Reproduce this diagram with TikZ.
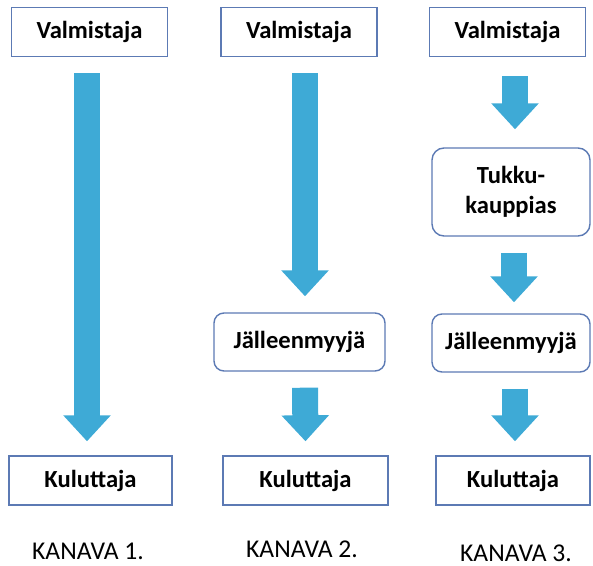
\documentclass[tikz,border=0pt]{standalone}
\usepackage{fontspec}
\setmainfont{Carlito}
\usetikzlibrary{arrows.meta}
\definecolor{arrowblue}{RGB}{62,170,214}
\definecolor{boxblue}{RGB}{92,122,180}
\begin{document}
\begin{tikzpicture}[x=0.5pt, y=-0.5pt,
            box/.style={rectangle, draw=boxblue, line width=0.7pt, align=center,
            font=\fontsize{12.3}{15}\selectfont\bfseries, inner sep=0pt},
            box1/.style={box, minimum width=78pt, minimum height=24.5pt},
            box2/.style={box, rounded corners=5pt, minimum width=80pt, minimum height=29pt},
            box3/.style={box, rounded corners=6pt, minimum width=79pt, minimum height=44pt},
            label/.style={font=\fontsize{12.8}{15}\selectfont, inner sep=0pt},
            flow/.style={arrowblue, line width=13pt, -{Triangle[width=23pt, length=13pt]}}
        ]
            \useasboundingbox (0,0) rectangle (593,566);

            % KANAVA 1.
            \node (valm1) [box1] at (89.5, 32) {Valmistaja};
            \node (kulu1) [box1, minimum width=81.5pt] at (90.5, 480.5) {Kuluttaja};
            \node (kan1) [label] at (88, 551) {KANAVA 1.};

            % KANAVA 2.
            \node (valm2) [box1] at (299, 32) {Valmistaja};
            \node (jall2) [box2, minimum width=85.5pt] at (299.5, 342) {Jälleenmyyjä};
            \node (kulu2) [box1, minimum width=82.5pt] at (305.5, 480.5) {Kuluttaja};
            \node (kan2) [label] at (302, 549) {KANAVA 2.};

            % KANAVA 3.
            \node (valm3) [box1] at (507.5, 32) {Valmistaja};
            \node (tukku3) [box3] at (511, 192) {Tukku-\\kauppias};
            \node (jall3) [box2, minimum width=79pt] at (511, 343) {Jälleenmyyjä};
            \node (kulu3) [box1, minimum width=77pt] at (513, 480.5) {Kuluttaja};
            \node (kan3) [label] at (516, 553) {KANAVA 3.};

            \draw [flow] ([xshift=-1.25pt, yshift=-8pt]valm1.south) -- ([xshift=-1.75pt, yshift=7pt]kulu1.north);
            \draw [flow] ([xshift=3pt, yshift=-8pt]valm2.south) -- ([xshift=2.75pt, yshift=8pt]jall2.north);
            \draw [flow] ([xshift=2.75pt, yshift=-8pt]jall2.south) -- ([xshift=0pt, yshift=7pt]kulu2.north);
            \draw [flow] ([xshift=3.75pt, yshift=-9.5pt]valm3.south) -- ([xshift=2pt, yshift=9pt]tukku3.north);
            \draw [flow] ([xshift=1.5pt, yshift=-8pt]tukku3.south) -- ([xshift=1.5pt, yshift=5.5pt]jall3.north);
            \draw [flow] ([xshift=2pt, yshift=-8pt]jall3.south) -- ([xshift=1pt, yshift=7pt]kulu3.north);
        \end{tikzpicture}
\end{document}
